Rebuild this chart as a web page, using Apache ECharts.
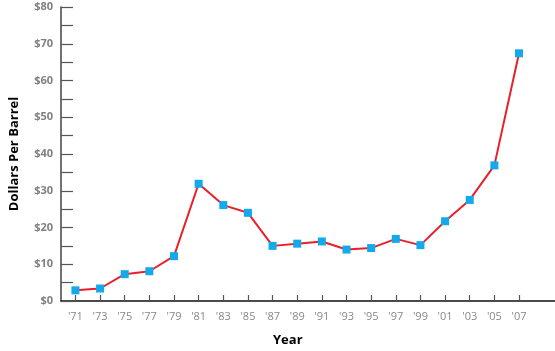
<!DOCTYPE html>
<html>
<head>
<meta charset="utf-8">
<script src="https://cdn.jsdelivr.net/npm/echarts@6/dist/echarts.min.js"></script>
<style>html,body{margin:0;padding:0;background:#fff;}#c{width:555px;height:351px;}</style>
</head>
<body>
<div id="c"></div>
<script>
const years = [1971,1973,1975,1977,1979,1981,1983,1985,1987,1989,1991,1993,1995,1997,1999,2001,2003,2005,2007];
const prices = [2.9,3.4,7.3,8.1,12.2,31.9,26.1,24.0,15.0,15.6,16.2,14.0,14.4,16.9,15.2,21.7,27.5,36.9,67.4];
const yTicks = [0,5,10,15,20,25,30,35,40,45,50,55,60,65,70,75,80];

const chart = echarts.init(document.getElementById('c'));
chart.setOption({
  animation: false,
  grid: {left: 51, right: 0, top: 7, bottom: 50},
  xAxis: {
    type: 'value',
    min: 1969.83,
    max: 2009.92,
    splitLine: {show: false},
    axisLine: {show: true, lineStyle: {color: '#111', width: 1.5}},
    axisTick: {show: true, inside: true, length: 6, customValues: years, lineStyle: {color: '#555', width: 1.2}},
    axisLabel: {
      customValues: years,
      margin: 10,
      color: '#888',
      fontFamily: 'Open Sans',
      fontSize: 11,
      formatter: v => "'" + String(v).slice(2)
    }
  },
  yAxis: {
    type: 'value',
    min: 0, max: 80, interval: 5,
    splitLine: {show: false},
    axisLine: {show: true, lineStyle: {color: '#444', width: 1.5}},
    axisTick: {show: true, inside: true, length: 12, lineStyle: {color: '#555', width: 1.2}},
    axisLabel: {
      margin: 8,
      color: '#808080',
      fontFamily: 'Open Sans',
      fontWeight: 'bold',
      fontSize: 11,
      formatter: v => (v % 10 === 0 ? '$' + v : '')
    },
    name: 'Dollars Per Barrel',
    nameLocation: 'middle',
    nameRotate: 90,
    nameGap: 40,
    nameTextStyle: {color: '#000', fontWeight: 'bold', fontSize: 13, fontFamily: 'Open Sans'}
  },
  graphic: [{
    type: 'text',
    left: 273,
    top: 334,
    style: {text: 'Year', fill: '#000', font: 'bold 13px "Open Sans"'}
  }],
  series: [{
    type: 'line',
    data: years.map((y, i) => [y, prices[i]]),
    symbol: 'rect',
    symbolSize: 8,
    lineStyle: {color: '#e8202a', width: 2},
    itemStyle: {color: '#12aaea'}
  }]
});
</script>
</body>
</html>
